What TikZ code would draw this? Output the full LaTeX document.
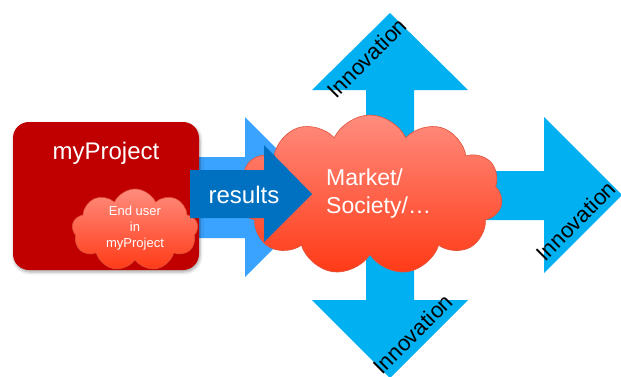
\documentclass[tikz,border=0pt]{standalone}
\usepackage{fontspec}
\setmainfont{Liberation Sans}
\usetikzlibrary{shapes.symbols,shadows.blur,shadows}
\definecolor{cyanarrow}{HTML}{00B0F0}
\definecolor{lightres}{HTML}{3AA3FF}
\definecolor{darkres}{HTML}{0070C0}
\definecolor{boxred}{HTML}{C00000}
\definecolor{cloudtop}{HTML}{FF8C7E}
\definecolor{cloudbot}{HTML}{FF3A16}
\definecolor{cloudline}{HTML}{E0533A}
\tikzset{
  bigarrow/.style={fill=cyanarrow, draw=none},
  cloudshape/.style={cloud, cloud ignores aspect, draw=cloudline, line width=0.6pt,
     top color=cloudtop, bottom color=cloudbot, inner sep=0pt},
  innolabel/.style={rotate=45, font=\fontsize{22}{24}\selectfont, text=black, inner sep=0pt},
  whitelabel/.style={text=white, inner sep=0pt, align=center}
}
\begin{document}
\begin{tikzpicture}[x=1pt,y=-1pt]
\useasboundingbox (0,0) rectangle (621,376);
% cyan innovation arrows
\fill[bigarrow] (366,195) -- (366,90) -- (312,90) -- (390,13) -- (468,90) -- (414,90) -- (414,195) -- cycle;
\fill[bigarrow] (366,195) -- (366,300) -- (312,300) -- (390,378) -- (468,300) -- (414,300) -- (414,195) -- cycle;
\fill[bigarrow] (400,171) -- (544,171) -- (544,117) -- (622,195) -- (544,273) -- (544,220) -- (400,220) -- cycle;
% light results arrow
\fill[lightres] (190,157) -- (245,157) -- (245,117) -- (325,197) -- (245,277) -- (245,238) -- (190,238) -- cycle;
% project box
\node[fill=boxred, rounded corners=16pt, minimum width=186pt, minimum height=148pt, inner sep=0pt,
      blur shadow={shadow xshift=1pt, shadow yshift=-2pt, shadow blur radius=3pt, shadow opacity=35}]
      (proj) at (106,196) {};
\node[whitelabel, font=\fontsize{24}{28}\selectfont] (projtext) at (106,153) {myProject};
% end user cloud
\node[cloudshape, cloud puffs=9, cloud puff arc=130, minimum width=126pt, minimum height=82pt] (endcloud) at (135,230) {};
\node[whitelabel, font=\fontsize{13}{16}\selectfont] (endtext) at (135,228) {End user\\in\\myProject};
% market cloud
\node[cloudshape, cloud puffs=11, cloud puff arc=130, minimum width=265pt, minimum height=160pt] (market) at (370,195) {};
% dark results arrow
\fill[darkres] (190,170) -- (264,170) -- (264,145) -- (312,194) -- (264,242) -- (264,218) -- (190,218) -- cycle;
\node[whitelabel, font=\fontsize{24}{28}\selectfont] (results) at (244,195) {results};
\node[whitelabel, align=left, anchor=west, font=\fontsize{23}{28}\selectfont] (markettext) at (326,194) {Market/\\Society/…};
% innovation labels
\node[innolabel] (inno1) at (367,58) {Innovation};
\node[innolabel] (inno2) at (576,221) {Innovation};
\node[innolabel] (inno3) at (413,334) {Innovation};
\end{tikzpicture}
\end{document}
